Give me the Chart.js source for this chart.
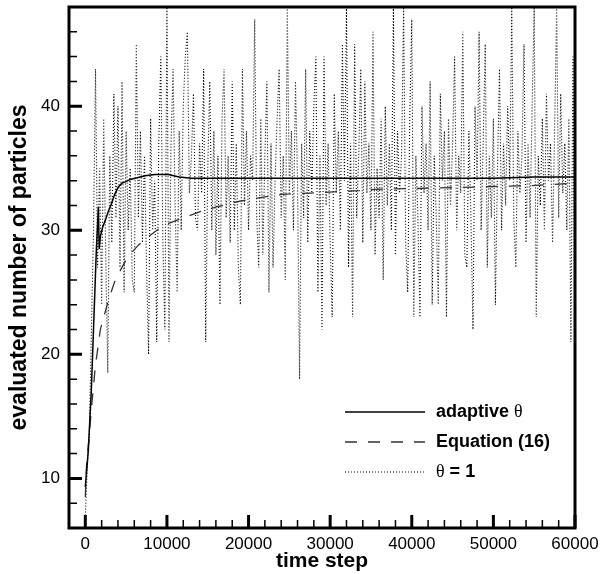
<!DOCTYPE html>
<html>
<head>
<meta charset="utf-8">
<script src="https://cdn.jsdelivr.net/npm/chart.js@4"></script>
<style>
  html, body { margin: 0; padding: 0; background: #fff; }
  canvas { display: block; }
</style>
</head>
<body>
<canvas id="chart" width="611" height="574"></canvas>
<script>
// dados
const seriesLabels = ["adaptive θ", "Equation (16)", "θ = 1"];

const adaptiveSteps = [0, 370, 730, 1100, 1350, 1500, 1600, 1700, 1840, 2100, 2450, 2800, 3180, 3600, 4040, 4500, 4900, 5500, 6120, 7340, 8500, 10160, 11500, 13000, 15000, 20000, 25000, 30000, 35000, 40000, 45000, 50000, 55000, 60000];
const adaptiveValues = [9.3, 12.3, 17, 23.8, 28.4, 30.5, 31.9, 28.5, 29.5, 30.2, 30.8, 31.5, 32.1, 32.9, 33.5, 33.8, 33.9, 34.1, 34.2, 34.4, 34.5, 34.5, 34.3, 34.2, 34.2, 34.2, 34.2, 34.2, 34.2, 34.2, 34.2, 34.2, 34.3, 34.3];

const equationSteps = [0, 120, 730, 1220, 1840, 2800, 3670, 5140, 6490, 7960, 9550, 12000, 14080, 16160, 18600, 21050, 24110, 27540, 30480, 33540, 35620, 42720, 48470, 54590, 57410, 60000];
const equationValues = [8.5, 10.7, 15.5, 19, 22, 24.3, 26, 27.8, 28.8, 29.6, 30.4, 31.0, 31.5, 31.9, 32.3, 32.6, 32.9, 33.0, 33.1, 33.2, 33.3, 33.4, 33.5, 33.6, 33.7, 33.8];

// θ = 1: uma amostra a cada 250 passos
const theta1Step = 250;
const theta1Values = [
  7, 11, 14, 22, 30, 43, 27, 35, 24, 39,
  28, 18.5, 36, 29, 41, 31, 40, 27, 42, 25,
  38, 30, 35, 26, 25, 45, 31, 38, 29, 36,
  27, 20, 39, 30, 34, 21, 37, 44, 29, 22,
  48, 21, 37, 43, 32, 25, 38, 30, 40, 44,
  46, 33, 36, 41, 31, 30, 37, 33, 43, 21,
  35, 42, 30, 38, 28, 36, 24, 39, 43, 31,
  36, 29, 42, 30, 37, 27, 24, 43, 32, 38,
  30, 36, 34, 47, 31, 27, 39, 28, 36, 42,
  25, 37, 27, 34, 39, 43, 31, 36, 26, 48,
  33, 38, 30, 42, 34, 18, 37, 31, 43, 29,
  38, 33, 40, 44, 25, 36, 22, 44, 32, 37,
  29, 23, 41, 33, 38, 30, 45, 34, 48, 27,
  37, 23, 45, 31, 36, 43, 29, 42, 33, 37,
  30, 46, 28, 35, 31, 39, 26, 40, 32, 37,
  30, 48, 28, 38, 33, 36, 48, 29, 25, 39,
  47, 23, 36, 31, 23, 40, 33, 37, 30, 42,
  24, 36, 31, 24, 41, 34, 38, 23, 39, 32,
  37, 44, 30, 36, 33, 46, 28, 27, 38, 31,
  22, 40, 34, 46, 30, 37, 45, 27, 36, 31,
  39, 24, 35, 43, 30, 37, 32, 40, 34, 48,
  31, 27, 38, 33, 36, 45, 29, 37, 31, 40,
  48, 23, 36, 32, 39, 30, 41, 34, 37, 29,
  38, 48, 31, 41, 33, 37, 30, 39, 21, 44, 20
];
const theta1Steps = theta1Values.map((_, i) => i * theta1Step);

const xTickLabels = [0, 10000, 20000, 30000, 40000, 50000, 60000];
const yTickLabels = [10, 20, 30, 40];

function toPoints(xs, ys) {
    return xs.map((x, i) => ({ x: x, y: ys[i] }));
}

const FONT = "'Liberation Sans', Arial, sans-serif";

// desenha moldura, marcas internas e legenda
const framePlugin = {
    id: "frame",
    afterDraw(chart) {
        const ctx = chart.ctx;
        const a = chart.chartArea;
        const xs = chart.scales.x;
        const ys = chart.scales.y;
        ctx.save();
        ctx.strokeStyle = "#000";

        // marcas menores
        ctx.lineWidth = 1.5;
        ctx.beginPath();
        for (let v = 2000; v < 60000; v += 2000) {
            if (v % 10000 === 0) continue;
            const px = xs.getPixelForValue(v);
            ctx.moveTo(px, a.bottom);
            ctx.lineTo(px, a.bottom - 8);
        }
        for (let v = 8; v < 48; v += 2) {
            if (v % 10 === 0) continue;
            const py = ys.getPixelForValue(v);
            ctx.moveTo(a.left, py);
            ctx.lineTo(a.left + 8, py);
        }
        ctx.stroke();

        // marcas maiores
        ctx.lineWidth = 3;
        ctx.beginPath();
        xTickLabels.forEach(v => {
            const px = xs.getPixelForValue(v);
            ctx.moveTo(px, a.bottom);
            ctx.lineTo(px, a.bottom - 13);
        });
        yTickLabels.forEach(v => {
            const py = ys.getPixelForValue(v);
            ctx.moveTo(a.left, py);
            ctx.lineTo(a.left + 13, py);
        });
        ctx.stroke();

        // moldura
        ctx.lineWidth = 3;
        ctx.strokeRect(a.left, a.top, a.right - a.left, a.bottom - a.top);

        // legenda
        const rows = [412, 442, 472];
        chart.data.datasets.forEach((ds, i) => {
            const y = rows[i];
            ctx.save();
            ctx.strokeStyle = ds.borderColor;
            ctx.lineWidth = ds.borderWidth;
            ctx.setLineDash(ds.borderDash || []);
            ctx.beginPath();
            ctx.moveTo(345, y);
            ctx.lineTo(425, y);
            ctx.stroke();
            ctx.restore();

            // texto com θ em fonte normal
            let x = 436;
            ctx.fillStyle = "#000";
            ctx.textBaseline = "middle";
            ctx.textAlign = "left";
            const parts = ds.label.split(/(θ)/);
            parts.forEach(p => {
                if (!p) return;
                ctx.font = p === "θ" ? "18px 'Liberation Serif', serif" : "bold 18px " + FONT;
                ctx.fillText(p, x, y);
                x += ctx.measureText(p).width;
            });
        });
        ctx.restore();
    }
};

const chart = new Chart(document.getElementById("chart"), {
    type: "line",
    data: {
        datasets: [
            {
                label: seriesLabels[0],
                data: toPoints(adaptiveSteps, adaptiveValues),
                borderColor: "#000",
                borderWidth: 1.5,
                pointRadius: 0,
                tension: 0,
            },
            {
                label: seriesLabels[1],
                data: toPoints(equationSteps, equationValues),
                borderColor: "#333",
                borderWidth: 1.3,
                borderDash: [12, 11],
                pointRadius: 0,
                tension: 0,
            },
            {
                label: seriesLabels[2],
                data: toPoints(theta1Steps, theta1Values),
                borderColor: "#000",
                borderWidth: 1.1,
                borderDash: [1, 2],
                pointRadius: 0,
                tension: 0,
            },
        ],
    },
    options: {
        responsive: false,
        animation: false,
        layout: { padding: { top: 7, right: 36, left: 0, bottom: 0 } },
        plugins: {
            legend: { display: false },
            tooltip: { enabled: false },
        },
        scales: {
            x: {
                type: "linear",
                min: -2000,
                max: 60000,
                afterBuildTicks: s => { s.ticks = xTickLabels.map(v => ({ value: v })); },
                afterFit: s => { s.height = 46; s.paddingLeft = 0; s.paddingRight = 0; },
                grid: { display: false, drawTicks: false },
                border: { display: false },
                ticks: {
                    color: "#000",
                    font: { family: FONT, size: 17 },
                    padding: 6,
                    maxRotation: 0,
                    autoSkip: false,
                    callback: v => String(v),
                },
                title: {
                    display: true,
                    text: "time step",
                    color: "#000",
                    font: { family: FONT, size: 21, weight: "bold" },
                    padding: { top: 0, bottom: 0 },
                },
            },
            y: {
                type: "linear",
                min: 6,
                max: 48,
                afterBuildTicks: s => { s.ticks = yTickLabels.map(v => ({ value: v })); },
                afterFit: s => { s.width = 69; s.paddingTop = 0; s.paddingBottom = 0; },
                grid: { display: false, drawTicks: false },
                border: { display: false },
                ticks: {
                    color: "#000",
                    font: { family: FONT, size: 17 },
                    padding: 9,
                },
                title: {
                    display: true,
                    text: "evaluated number of particles",
                    color: "#000",
                    font: { family: FONT, size: 23, weight: "bold" },
                    padding: { top: 6, bottom: 0 },
                },
            },
        },
    },
    plugins: [framePlugin],
});
</script>
</body>
</html>
